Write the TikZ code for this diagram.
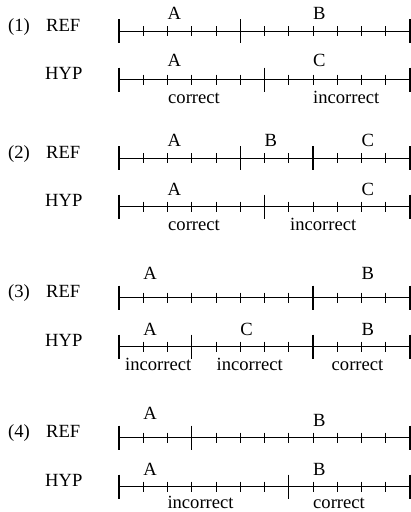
\documentclass[tikz,border=0pt]{standalone}
\usepackage{fontspec}
\setmainfont{Liberation Serif}
\newcommand{\tlx}[1]{119+24.25*#1}
\newcommand{\timeline}[2]{%
  \draw[axisline] (119,#1) -- (409.6,#1);
  \foreach \i in {0,...,12} {\draw[smalltick] ({\tlx{\i}},{#1-5}) -- ({\tlx{\i}},{#1+5});}
  \foreach \i in {#2} {\draw[bigtick] ({\tlx{\i}},{#1-12}) -- ({\tlx{\i}},{#1+12});}
}
\begin{document}
\begin{tikzpicture}[x=1pt,y=-1pt,
  axisline/.style={line width=0.9pt},
  smalltick/.style={line width=0.8pt},
  bigtick/.style={line width=1.4pt},
  txt/.style={inner sep=0pt,anchor=base west,font=\fontsize{18.6}{20}\selectfont},
]
\useasboundingbox (0,0) rectangle (411,512);
% Panel 1
\node[txt] (n1) at (8,31) {(1)};
\node[txt] (r1) at (46,31) {REF};
\node[txt] (h1) at (45,79.5) {HYP};
\timeline{31}{0,5,12}
\timeline{79.5}{0,6,12}
\node[txt] (r1a) at ({\tlx{2}},{31-12}) {A};
\node[txt] (r1b) at ({\tlx{8}},{31-12}) {B};
\node[txt] (h1a) at ({\tlx{2}},{79.5-13}) {A};
\node[txt] (h1c) at ({\tlx{8}},{79.5-13}) {C};
\node[txt] (c1a) at (168,103.5) {correct};
\node[txt] (c1b) at (313,103.5) {incorrect};
% Panel 2
\node[txt] (n2) at (8,158.3) {(2)};
\node[txt] (r2) at (46,158.3) {REF};
\node[txt] (h2) at (45,206.7) {HYP};
\timeline{158.3}{0,5,8,12}
\timeline{206.7}{0,6,12}
\node[txt] (r2a) at ({\tlx{2}},{158.3-11.5}) {A};
\node[txt] (r2b) at ({\tlx{6}},{158.3-11.5}) {B};
\node[txt] (r2c) at ({\tlx{10}},{158.3-11.5}) {C};
\node[txt] (h2a) at ({\tlx{2}},{206.7-11}) {A};
\node[txt] (h2c) at ({\tlx{10}},{206.7-11}) {C};
\node[txt] (c2a) at (168,230.5) {correct};
\node[txt] (c2b) at (290,230.5) {incorrect};
% Panel 3
\node[txt] (n3) at (8,297.7) {(3)};
\node[txt] (r3) at (46,297.7) {REF};
\node[txt] (h3) at (45,346.7) {HYP};
\timeline{297.7}{0,8,12}
\timeline{346.7}{0,3,8,12}
\node[txt] (r3a) at ({\tlx{1}},{297.7-18.5}) {A};
\node[txt] (r3b) at ({\tlx{10}},{297.7-18.5}) {B};
\node[txt] (h3a) at ({\tlx{1}},{346.7-11.5}) {A};
\node[txt] (h3c) at ({\tlx{5}},{346.7-11.5}) {C};
\node[txt] (h3b) at ({\tlx{10}},{346.7-11.5}) {B};
\node[txt] (c3a) at (125,370.5) {incorrect};
\node[txt] (c3b) at (216.5,370.5) {incorrect};
\node[txt] (c3c) at (331.5,370.5) {correct};
% Panel 4
\node[txt] (n4) at (8,437.7) {(4)};
\node[txt] (r4) at (46,437.7) {REF};
\node[txt] (h4) at (45,486.7) {HYP};
\timeline{437.7}{0,3,12}
\timeline{486.7}{0,7,12}
\node[txt] (r4a) at ({\tlx{1}},{437.7-18.7}) {A};
\node[txt] (r4b) at ({\tlx{8}},{437.7-11.7}) {B};
\node[txt] (h4a) at ({\tlx{1}},{486.7-11}) {A};
\node[txt] (h4b) at ({\tlx{8}},{486.7-11}) {B};
\node[txt] (c4a) at (167.3,508) {incorrect};
\node[txt] (c4b) at (313,508) {correct};
\end{tikzpicture}
\end{document}
